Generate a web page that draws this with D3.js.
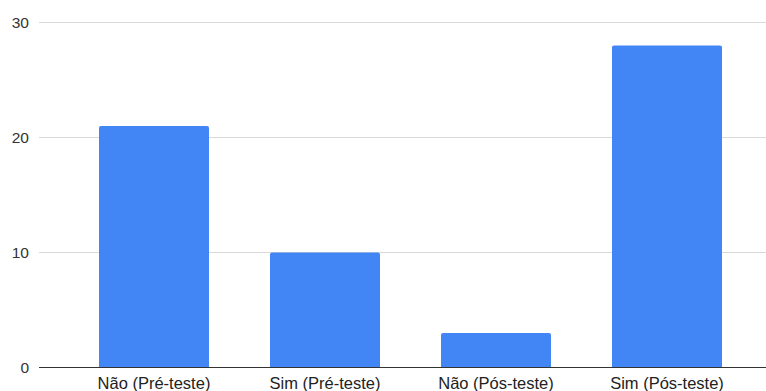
<!DOCTYPE html>
<html>
<head>
<meta charset="utf-8">
<script src="https://cdn.jsdelivr.net/npm/d3@7"></script>
<style>
  html, body { margin: 0; padding: 0; background: #fff; }
  svg { display: block; }
</style>
</head>
<body>
<svg id="chart" width="766" height="391"></svg>
<script>
// Respostas antes e depois do teste
const categories = ["Não (Pré-teste)", "Sim (Pré-teste)", "Não (Pós-teste)", "Sim (Pós-teste)"];
const values = [21, 10, 3, 28];
const yTicks = [0, 10, 20, 30];

const svg = d3.select("#chart");
const W = 766;
const gridLeft = 39;

const x = d3.scaleBand()
  .domain(categories)
  .range([68.5, 752.5])
  .paddingInner(61 / 171)
  .paddingOuter(61 / 171 / 2);

const y = d3.scaleLinear()
  .domain([0, 30])
  .range([367.5, 22.5]);

// Horizontal gridlines
svg.append("g")
  .selectAll("line")
  .data(yTicks.filter(d => d !== 0))
  .join("line")
  .attr("x1", gridLeft)
  .attr("x2", W)
  .attr("y1", d => y(d))
  .attr("y2", d => y(d))
  .attr("stroke", "#d9d9d9")
  .attr("stroke-width", 1);

// Y tick labels
svg.append("g")
  .selectAll("text")
  .data(yTicks)
  .join("text")
  .attr("x", 29)
  .attr("y", d => y(d))
  .attr("dy", "0.36em")
  .attr("text-anchor", "end")
  .attr("font-family", "'Liberation Sans', Arial, sans-serif")
  .attr("font-size", 15.5)
  .attr("fill", "#333")
  .text(d => d);

// Bars with slightly rounded tops
const r = 2;
svg.append("g")
  .selectAll("path")
  .data(values)
  .join("path")
  .attr("fill", "#4285f4")
  .attr("d", (d, i) => {
    const x0 = x(categories[i]);
    const w = x.bandwidth();
    const y0 = y(d);
    const yb = y(0);
    return `M${x0},${yb} L${x0},${y0 + r} Q${x0},${y0} ${x0 + r},${y0} ` +
           `L${x0 + w - r},${y0} Q${x0 + w},${y0} ${x0 + w},${y0 + r} L${x0 + w},${yb} Z`;
  });

// Baseline
svg.append("line")
  .attr("x1", gridLeft)
  .attr("x2", W)
  .attr("y1", y(0))
  .attr("y2", y(0))
  .attr("stroke", "#333")
  .attr("stroke-width", 1);

// Category labels
svg.append("g")
  .selectAll("text")
  .data(categories)
  .join("text")
  .attr("x", d => x(d) + x.bandwidth() / 2)
  .attr("y", 389)
  .attr("text-anchor", "middle")
  .attr("font-family", "'Liberation Sans', Arial, sans-serif")
  .attr("font-size", 16.5)
  .attr("fill", "#222")
  .text(d => d);
</script>
</body>
</html>
